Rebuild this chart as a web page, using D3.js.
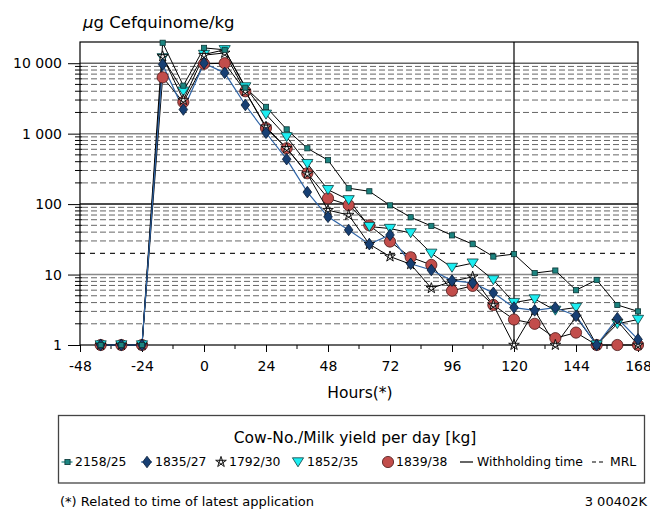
<!DOCTYPE html>
<html><head><meta charset="utf-8">
<script src="https://cdn.jsdelivr.net/npm/d3@7"></script>
<style>body{margin:0;background:#fff}svg{display:block;font-family:"DejaVu Sans",sans-serif}</style>
</head><body><svg id="c" width="650" height="510"></svg>
<script>
// ---- data ----
const hours = [-40,-32,-24,-16,-8,0,8,16,24,32,40,48,56,64,72,80,88,96,104,112,120,128,136,144,152,160,168];
const cowLabels = ["2158/25","1835/27","1792/30","1852/35","1839/38"];
const cow2158 = [1,1,1,19500,4800,16500,15500,4500,2400,1150,620,420,168,152,96,65,49,36,27,18,19.5,10.5,11.4,6,8.4,3.7,3.0];
const cow1835 = [1,1,1,9600,2200,10000,7300,2550,1030,434,148,66,43,27,36.5,14.2,11.6,8.2,7.6,5.5,3.4,3.1,3.4,2.6,1,2.4,1.2];
const cow1792 = [1,1,1,12500,3000,13000,14000,4000,1250,620,270,82,70,27,18,14,6.4,8,9.3,3.7,1,3.1,1,2.5,1,2.2,1];
const cow1852 = [1,1,1,11900,4000,13300,15500,4600,1880,900,375,160,115,48,45,39,20,12.6,14.5,8.4,4.0,4.5,3.1,3.4,1,2.0,2.3];
const cow1839 = [1,1,1,6300,2800,9800,10000,4000,1200,620,274,121,97,50,29.4,17.6,13.7,5.9,6.9,3.7,2.3,2.0,1.25,1.5,1,1,1];
const xTicks = [-48,-24,0,24,48,72,96,120,144,168];
const xMinorTicks = [-36,-12,12,36,60,84,108,132,156];
const yTicks = [1,10,100,1000,10000];
const yTickLabels = ["1","10","100","1 000","10 000"];
const withholdingTime = 120;
const mrl = 20;

// ---- chart ----
const svg = d3.select("#c");
const x = d3.scaleLinear().domain([-48,168]).range([80,638]);
const y = d3.scaleLog().domain([1,20000]).range([345,42]);
const L = 80, R = 638, T = 42, B = 345;

// grid
const grid = svg.append("g");
const minor = [];
[1,10,100,1000,10000].forEach(d => { for (let m=2;m<=9;m++){ const v=d*m; if (v<20000 && v!==mrl) minor.push(v);} });
grid.selectAll("line.mn").data(minor).join("line")
  .attr("x1",L+2).attr("x2",R).attr("y1",d=>y(d)).attr("y2",d=>y(d))
  .attr("stroke","#666").attr("stroke-width",1).attr("stroke-dasharray","6,3");
const decCol = {10:"#888",100:"#111",1000:"#888",10000:"#666"};
grid.selectAll("line.dc").data([10,100,1000,10000]).join("line")
  .attr("x1",L).attr("x2",R).attr("y1",d=>y(d)).attr("y2",d=>y(d))
  .attr("stroke",d=>decCol[d]).attr("stroke-width",1.5);
// MRL
svg.append("line").attr("x1",L).attr("x2",R).attr("y1",y(mrl)).attr("y2",y(mrl))
  .attr("stroke","#222").attr("stroke-width",1.4).attr("stroke-dasharray","5,5");
// minor y ticks
svg.append("g").selectAll("line").data(minor.concat([mrl])).join("line")
  .attr("x1",L-5).attr("x2",L+2).attr("y1",d=>y(d)).attr("y2",d=>y(d)).attr("stroke","#000");

// axes
const yAxis = d3.axisLeft(y).tickValues(yTicks).tickSize(12).tickPadding(6)
  .tickFormat((d,i)=>yTickLabels[i]);
svg.append("g").attr("transform",`translate(${L},0)`).call(yAxis)
  .call(g=>{g.select(".domain").remove(); g.selectAll("text").attr("font-size",14).attr("font-family","DejaVu Sans").attr("fill","#000");});
const xAxis = d3.axisBottom(x).tickValues(xTicks).tickSize(7).tickPadding(9.5).tickFormat(d=>String(d));
svg.append("g").attr("transform",`translate(0,${B})`).call(xAxis)
  .call(g=>{g.select(".domain").remove(); g.selectAll("text").attr("font-size",14).attr("font-family","DejaVu Sans").attr("fill","#000");});
svg.append("g").selectAll("line").data(xMinorTicks).join("line")
  .attr("x1",d=>x(d)).attr("x2",d=>x(d)).attr("y1",B).attr("y2",B+4).attr("stroke","#000");

// frame
svg.append("rect").attr("x",L).attr("y",T).attr("width",R-L).attr("height",B-T)
  .attr("fill","none").attr("stroke","#000").attr("stroke-width",1.2);
// withholding time
svg.append("line").attr("x1",x(withholdingTime)).attr("x2",x(withholdingTime)).attr("y1",T).attr("y2",B)
  .attr("stroke","#000").attr("stroke-width",1.2);

// series
const starPath = (r) => { const p=[]; for(let k=0;k<5;k++){const a=-Math.PI/2+k*2*Math.PI/5; p.push([r*Math.cos(a),r*Math.sin(a)]);}
  const o=[0,2,4,1,3]; return "M"+o.map(i=>p[i].join(",")).join("L")+"Z"; };
const markers = {
  square: g => g.append("rect").attr("x",-2.6).attr("y",-2.6).attr("width",5.2).attr("height",5.2).attr("fill","#1c8480").attr("stroke","#0a3535").attr("stroke-width",0.8),
  diamond: g => g.append("path").attr("d","M0,-5.8L4.3,0L0,5.8L-4.3,0Z").attr("fill","#173f73").attr("stroke","#081a33").attr("stroke-width",0.8),
  star: g => g.append("path").attr("d",starPath(5.6)).attr("fill","#eee").attr("stroke","#000").attr("stroke-width",0.9),
  tri: g => g.append("path").attr("d","M-5.6,-4.2L5.6,-4.2L0,4.8Z").attr("fill","#1ceef2").attr("stroke","#0a3a3a").attr("stroke-width",0.8),
  circle: g => g.append("circle").attr("r",5.6).attr("fill","#c24d4b").attr("stroke","#4a1515").attr("stroke-width",0.8)
};
const series = [
  {vals:cow1839, m:"circle", lc:"#000", lw:1},
  {vals:cow1852, m:"tri", lc:"#000", lw:1},
  {vals:cow1792, m:"star", lc:"#000", lw:1},
  {vals:cow2158, m:"square", lc:"#000", lw:1},
  {vals:cow1835, m:"diamond", lc:"#2f64a6", lw:1.2}
];
const line = d3.line().x((d,i)=>x(hours[i])).y(d=>y(d));
series.forEach(s => svg.append("path").datum(s.vals).attr("d",line).attr("fill","none").attr("stroke",s.lc).attr("stroke-width",s.lw));
const markerOrder = [0,1,2,4,3];
markerOrder.forEach(k => { const s=series[k];
  s.vals.forEach((v,i)=>{ const g=svg.append("g").attr("transform",`translate(${x(hours[i])},${y(v)})`); markers[s.m](g); });
});

// title & labels
const t = svg.append("text").attr("x",83).attr("y",28).attr("font-size",16.5).attr("fill","#000");
t.append("tspan").attr("font-style","italic").text("μ");
t.append("tspan").text("g Cefquinome/kg");
svg.append("text").attr("x",360).attr("y",398).attr("text-anchor","middle").attr("font-size",15.5).text("Hours(*)");

// legend
svg.append("rect").attr("x",58.5).attr("y",415.5).attr("width",586).attr("height",67.5)
  .attr("fill","none").attr("stroke","#444").attr("stroke-width",1.3);
svg.append("text").attr("x",355).attr("y",443).attr("text-anchor","middle").attr("font-size",15.5).text("Cow-No./Milk yield per day [kg]");
const legY = 462, legBase = 466, legFont = 12.4;
const legItems = [
  {m:"square", mx:67.5, tx:75, lc:"#1c8480", lab:cowLabels[0]},
  {m:"diamond", mx:147, tx:155, lc:"#2f64a6", lab:cowLabels[1]},
  {m:"star", mx:221, tx:229, lc:"#000", lab:cowLabels[2]},
  {m:"tri", mx:298, tx:307, lc:"#1ceef2", lab:cowLabels[3]},
  {m:"circle", mx:388, tx:396, lc:"#000", lab:cowLabels[4]}
];
legItems.forEach(it => {
  if (it.m === "square" || it.m === "diamond")
    svg.append("line").attr("x1",it.mx-6).attr("x2",it.mx+5).attr("y1",legY).attr("y2",legY).attr("stroke",it.lc).attr("stroke-width",1.2);
  markers[it.m](svg.append("g").attr("transform",`translate(${it.mx},${legY})`));
  svg.append("text").attr("x",it.tx).attr("y",legBase).attr("font-size",legFont).text(it.lab);
});
svg.append("line").attr("x1",460).attr("x2",473).attr("y1",legY).attr("y2",legY).attr("stroke","#000").attr("stroke-width",1.2);
svg.append("text").attr("x",477).attr("y",legBase).attr("font-size",legFont).text("Withholding time");
svg.append("line").attr("x1",592).attr("x2",604).attr("y1",legY).attr("y2",legY).attr("stroke","#000").attr("stroke-width",1.2).attr("stroke-dasharray","4,3");
svg.append("text").attr("x",610).attr("y",legBase).attr("font-size",legFont).text("MRL");

svg.append("text").attr("x",60).attr("y",506).attr("font-size",13).text("(*) Related to time of latest application");
svg.append("text").attr("x",647).attr("y",506).attr("text-anchor","end").attr("font-size",13).text("3 00402K");
</script></body></html>
